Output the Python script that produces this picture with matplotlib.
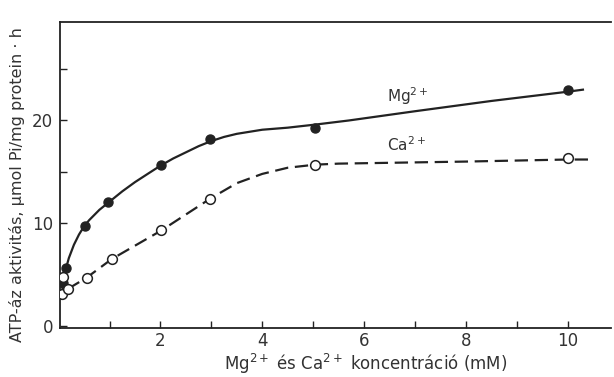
import numpy as np
import matplotlib.pyplot as plt

mg_x = [0.08, 0.14, 0.51, 0.96, 2.02, 2.98, 5.04, 10.0]
mg_y = [4.2, 5.6, 9.7, 12.1, 15.7, 18.2, 19.3, 23.0]
ca_x = [0.06, 0.08, 0.18, 0.55, 1.04, 2.02, 2.98, 5.04, 10.0]
ca_y = [3.1, 4.8, 3.6, 4.7, 6.5, 9.3, 12.4, 15.7, 16.3]

# hand drawn fitted curves
mg_curve_x = [0.06, 0.1, 0.15, 0.2, 0.3, 0.4, 0.5, 0.6, 0.8, 1.0, 1.25, 1.5, 1.78,
              2.0, 2.25, 2.5, 2.75, 3.0, 3.25, 3.5, 3.75, 4.0, 4.5, 5.04, 5.7, 7.0,
              8.5, 10.0, 10.3]
mg_curve_y = [3.0, 4.5, 5.7, 6.6, 7.9, 8.9, 9.7, 10.3, 11.3, 12.1, 13.1, 14.0, 14.9,
              15.6, 16.3, 16.9, 17.5, 18.0, 18.4, 18.7, 18.9, 19.1, 19.3, 19.6, 20.0, 20.9,
              21.9, 22.8, 23.0]
ca_curve_x = [0.18, 0.55, 1.04, 2.02, 2.98, 3.5, 4.0, 4.5, 5.04, 5.5, 8.0, 10.0, 10.5]
ca_curve_y = [3.6, 4.7, 6.5, 9.3, 12.4, 13.9, 14.8, 15.4, 15.7, 15.8, 16.0, 16.2, 16.2]

ink = "#222222"
txt = "#333333"
plt.rcParams["font.family"] = "DejaVu Sans"

fig = plt.figure(figsize=(6.14, 3.77), dpi=100)
ax = fig.add_axes([0.098, 0.13, 0.897, 0.812])

ax.plot(mg_curve_x, mg_curve_y, color=ink, lw=1.6, zorder=2)
ax.plot(ca_curve_x, ca_curve_y, color=ink, lw=1.6, ls=(0, (6, 3)), zorder=2)
ax.plot(mg_x, mg_y, "o", color=ink, ms=6.5, zorder=3)
ax.plot(ca_x, ca_y, "o", mfc="white", mec=ink, mew=1.1, ms=7, zorder=3)

ax.text(6.45, 22.4, "Mg$^{2+}$", fontsize=11, color=txt, va="center", ha="left")
ax.text(6.45, 17.6, "Ca$^{2+}$", fontsize=11, color=txt, va="center", ha="left")

ax.set_xlim(0.03, 10.85)
ax.set_ylim(-0.2, 29.6)
ax.set_xticks([2, 4, 6, 8, 10])
ax.set_xticks([1, 3, 5, 7, 9], minor=True)
ax.set_yticks([0, 10, 20])
ax.set_yticks([5, 15, 25], minor=True)
ax.tick_params(which="both", direction="in", length=5, width=1, color=ink,
               labelsize=12, labelcolor=txt)
ax.tick_params(axis="x", pad=3)
ax.tick_params(axis="y", pad=5)
for s in ["left", "bottom", "top"]:
    ax.spines[s].set_color(ink)
    ax.spines[s].set_linewidth(1.3)
ax.spines["right"].set_visible(False)

ax.set_xlabel("Mg$^{2+}$ és Ca$^{2+}$ koncentráció (mM)", fontsize=12, color=txt)
ax.xaxis.set_label_coords(0.555, -0.078, transform=ax.transAxes)
ax.set_ylabel("ATP-áz aktivitás, μmol Pi/mg protein · h", fontsize=11.5, color=txt)
ax.yaxis.set_label_coords(-0.064, 0.47, transform=ax.transAxes)

fig.savefig("out.png", dpi=100)
